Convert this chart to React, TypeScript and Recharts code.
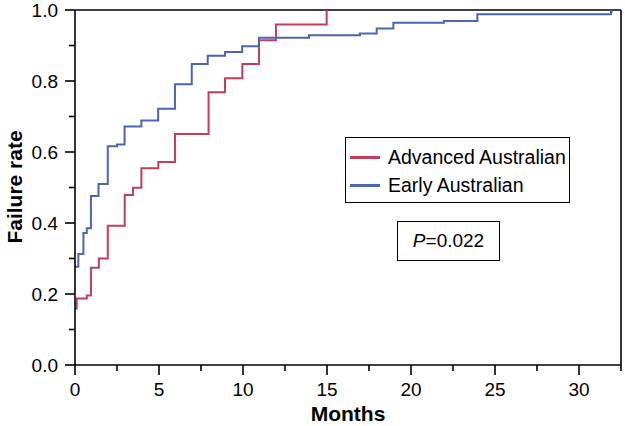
import React from 'react';
import { LineChart, Line, XAxis, YAxis, ReferenceLine, Legend } from 'recharts';

// step points (months, failure rate)
const advancedMonths = [0, 0.1, 0.7, 0.95, 1.42, 1.95, 2.96, 3.45, 3.95, 4.96, 5.95, 7.95, 8.93, 9.96, 10.95, 11.96, 14.98];
const advancedRate = [0.159, 0.187, 0.196, 0.274, 0.3, 0.392, 0.479, 0.499, 0.554, 0.572, 0.651, 0.768, 0.808, 0.848, 0.915, 0.959, 1.0];

const earlyMonths = [0, 0.2, 0.5, 0.7, 0.95, 1.4, 1.95, 2.5, 2.95, 3.95, 4.95, 5.95, 6.95, 7.9, 8.93, 9.95, 10.95, 13.93, 16.96, 17.96, 18.95, 21.96, 23.95, 31.9, 32.0];
const earlyRate = [0.277, 0.313, 0.372, 0.385, 0.476, 0.51, 0.616, 0.621, 0.672, 0.689, 0.722, 0.791, 0.848, 0.871, 0.882, 0.898, 0.922, 0.929, 0.934, 0.948, 0.964, 0.969, 0.988, 0.996, 0.996];

const xTicks = [0, 2.5, 5, 7.5, 10, 12.5, 15, 17.5, 20, 22.5, 25, 27.5, 30, 32.5];
const yTicks = [0, 0.1, 0.2, 0.3, 0.4, 0.5, 0.6, 0.7, 0.8, 0.9, 1.0];

const seriesNames = ['Advanced Australian', 'Early Australian'];
const pValue = '0.022';

const RED = '#c23d5c';
const BLUE = '#4a65b2';
const FONT = '"Liberation Sans", Arial, sans-serif';

const advancedData = advancedMonths.map((t, i) => ({ t, rate: advancedRate[i] }));
const earlyData = earlyMonths.map((t, i) => ({ t, rate: earlyRate[i] }));

const XTick = (props: any) => {
  const { x, y, payload } = props;
  const v = payload.value;
  const major = Math.abs(v % 5) < 0.001;
  const len = major ? 10 : 6;
  return (
    <g>
      <line x1={x} y1={y} x2={x} y2={y + len} stroke="#000" strokeWidth={1.6} />
      {major && (
        <text x={x} y={y + 31} textAnchor="middle" fontSize={19} fontFamily={FONT} fill="#000">
          {v}
        </text>
      )}
    </g>
  );
};

const YTick = (props: any) => {
  const { x, y, payload } = props;
  const v = payload.value;
  const major = Math.round(v * 10) % 2 === 0;
  const len = major ? 10 : 6;
  return (
    <g>
      <line x1={x - len} y1={y} x2={x} y2={y} stroke="#000" strokeWidth={1.6} />
      {major && (
        <text x={x - 17} y={y + 7} textAnchor="end" fontSize={19} fontFamily={FONT} fill="#000">
          {v.toFixed(1)}
        </text>
      )}
    </g>
  );
};

const YTitle = () => (
  <text
    x={14}
    y={187}
    transform="rotate(-90, 14, 187)"
    textAnchor="middle"
    dominantBaseline="central"
    fontSize={21}
    fontWeight="bold"
    fontFamily={FONT}
    fill="#000"
  >
    Failure rate
  </text>
);

const XTitle = () => (
  <text x={348} y={421} textAnchor="middle" fontSize={21} fontWeight="bold" fontFamily={FONT} fill="#000">
    Months
  </text>
);

const renderLegend = () => (
  <div
    style={{
      border: '1px solid #000',
      background: '#fff',
      width: 225,
      height: 66,
      boxSizing: 'border-box',
      padding: '5px 0 0 4px',
      fontFamily: FONT,
      fontSize: 19.5,
      color: '#000',
    }}
  >
    {[RED, BLUE].map((c, i) => (
      <div key={i} style={{ display: 'flex', alignItems: 'center', height: 28, whiteSpace: 'nowrap' }}>
        <span style={{ display: 'inline-block', width: 30, height: 3, background: c, marginRight: 8 }} />
        <span>{seriesNames[i]}</span>
      </div>
    ))}
  </div>
);

export default function App() {
  return (
    <div style={{ position: 'absolute', left: 0, top: 0, width: 625, height: 426, background: '#fff' }}>
      <LineChart width={625} height={426} margin={{ top: 10, right: 4, left: 0, bottom: 0 }}>
        <XAxis
          dataKey="t"
          type="number"
          domain={[0, 32.5]}
          ticks={xTicks}
          interval={0}
          allowDataOverflow
          height={61}
          tickSize={0}
          tickMargin={0}
          tickLine={false}
          tick={<XTick />}
          axisLine={{ stroke: '#000', strokeWidth: 1.6 }}
          label={<XTitle />}
        />
        <YAxis
          type="number"
          domain={[0, 1]}
          ticks={yTicks}
          interval={0}
          width={75}
          tickSize={0}
          tickMargin={0}
          tickLine={false}
          tick={<YTick />}
          axisLine={{ stroke: '#000', strokeWidth: 1.6 }}
          label={<YTitle />}
        />
        <ReferenceLine y={1} stroke="#000" strokeWidth={1.6} />
        <ReferenceLine x={32.5} stroke="#000" strokeWidth={1.6} />
        <Line data={advancedData} dataKey="rate" type="stepAfter" stroke={RED} strokeWidth={2} dot={false} isAnimationActive={false} name={seriesNames[0]} />
        <Line data={earlyData} dataKey="rate" type="stepAfter" stroke={BLUE} strokeWidth={2} dot={false} isAnimationActive={false} name={seriesNames[1]} />
        <Legend
          layout="vertical"
          align="center"
          verticalAlign="middle"
          content={renderLegend}
          wrapperStyle={{ left: 345, top: 137, width: 225, height: 66 }}
        />
      </LineChart>
      <div
        style={{
          position: 'absolute',
          left: 397,
          top: 221,
          width: 103,
          height: 40,
          boxSizing: 'border-box',
          border: '1px solid #000',
          background: '#fff',
          fontFamily: FONT,
          fontSize: 19,
          display: 'flex',
          alignItems: 'center',
          justifyContent: 'center',
          color: '#000',
        }}
      >
        <i>P</i>=<span>{pValue}</span>
      </div>
    </div>
  );
}
